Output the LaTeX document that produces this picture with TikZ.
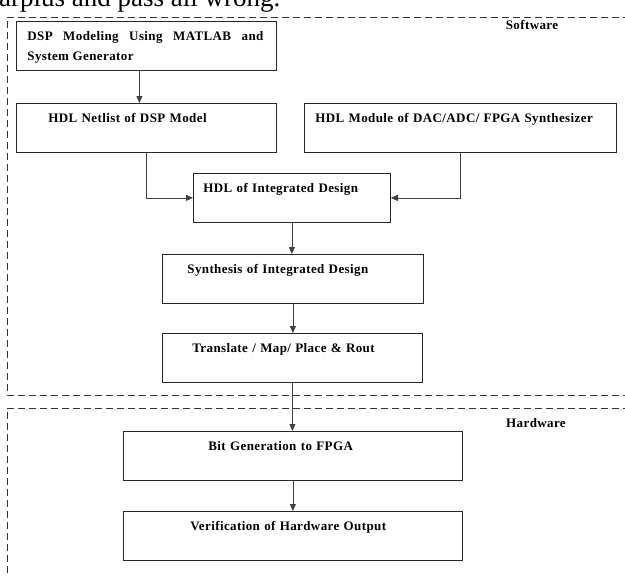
\documentclass[tikz,border=0pt]{standalone}
\usepackage{fontspec}
\setmainfont{Liberation Serif}
\newfontfamily\boxfont{Liberation Serif}[LetterSpace=3]
\usetikzlibrary{arrows.meta}

\tikzset{
  box/.style={draw=black!85, line width=0.8pt, inner sep=0pt, anchor=north west,
    align=left, text height=19pt, text depth=30pt,
    font=\boxfont\bfseries\fontsize{13}{20}\selectfont},
  flow/.style={draw=black!75, line width=0.8pt, -{Triangle[length=7pt,width=6pt]}},
  zone/.style={draw=black!80, line width=0.8pt, dash pattern=on 7pt off 4pt},
}

\begin{document}
\begin{tikzpicture}[x=1pt,y=-1pt]
  \useasboundingbox (0,0) rectangle (625,576);
  \clip (0,0) rectangle (625,576);

  % text of the page above the figure
  \node[anchor=base west, inner sep=0pt, font=\fontsize{27}{30}\selectfont] (pagetext) at (-1,6) {arplus and pass all wrong.};

  %------ Software
  \draw[zone] (630,17) -- (7,17) -- (7,395) -- (630,395);
  \node[font=\boxfont\bfseries\fontsize{13}{14}\selectfont] (swlabel) at (532,25) {Software};

  \node[box, text width=260pt, align=justify] (dsp) at (16,21)
    {\hspace*{11pt}\parbox[t]{236pt}{DSP Modeling Using MATLAB and\linebreak System Generator}};
  \node[box, text width=260pt] (netlist) at (16,103) {\hspace*{32pt}HDL Netlist of DSP Model};
  \node[box, text width=312pt] (module) at (304,103) {\hspace*{11pt}HDL Module of DAC/ADC/ FPGA Synthesizer};
  \node[box, text width=197pt] (integ) at (193,173) {\hspace*{10pt}HDL of Integrated Design};
  \node[box, text width=261pt] (synth) at (162,254) {\hspace*{25pt}Synthesis of Integrated Design};
  \node[box, text width=260pt] (route) at (162,333) {\hspace*{30pt}Translate / Map/ Place \& Rout};

  %------ Hardware
  \draw[zone] (630,408) -- (7,408) -- (7,580);
  \node[font=\boxfont\bfseries\fontsize{13}{14}\selectfont] (hwlabel) at (536,423) {Hardware};

  \node[box, text width=339pt] (bitgen) at (123,431) {\hspace*{85pt}Bit Generation to FPGA};
  \node[box, text width=339pt] (verif) at (123,511) {\hspace*{67pt}Verification of Hardware Output};

  % connectors
  \draw[flow] ([xshift=-7pt]dsp.south) -- ([xshift=-7pt]netlist.north);
  \draw[flow] (netlist.south) |- (integ.west);
  \draw[flow] (module.south) |- (integ.east);
  \draw[flow] (integ.south) -- (integ.south |- synth.north);
  \draw[flow] (synth.south) -- (synth.south |- route.north);
  \draw[flow] (route.south) -- (route.south |- bitgen.north);
  \draw[flow] (bitgen.south) -- (bitgen.south |- verif.north);
\end{tikzpicture}
\end{document}
